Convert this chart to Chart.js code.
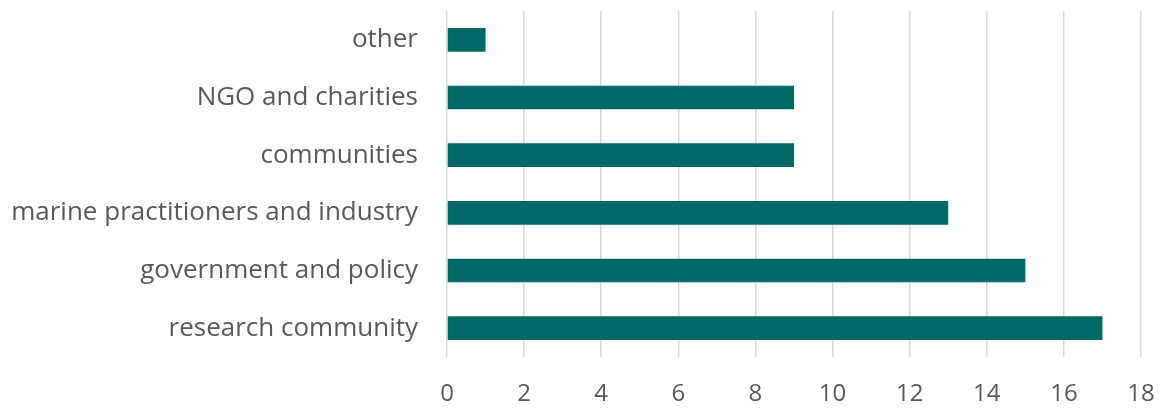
<!DOCTYPE html>
<html><head><meta charset="utf-8">
<script src="https://cdn.jsdelivr.net/npm/chart.js@4"></script>
<style>html,body{margin:0;padding:0;background:#fff}#wrap{width:1163px;height:410px}</style>
</head><body><div id="wrap"><canvas id="c"></canvas></div>
<script>
const categories = ["other","NGO and charities","communities","marine practitioners and industry","government and policy","research community"];
const values = [1,9,9,13,15,17];
const xTicks = [0,2,4,6,8,10,12,14,16,18];

new Chart(document.getElementById('c'), {
  type: 'bar',
  data: { labels: categories, datasets: [{ data: values, backgroundColor: '#006865', borderWidth: 0, categoryPercentage: 1, barPercentage: 0.41 }] },
  options: {
    indexAxis: 'y', responsive: true, maintainAspectRatio: false, animation: false,
    layout: { padding: { top: 11, right: 22, left: 0, bottom: 0 } },
    plugins: { legend: { display: false }, tooltip: { enabled: false } },
    scales: {
      x: { min: 0, max: 18, afterBuildTicks: s => { s.ticks = xTicks.map(v => ({ value: v })); },
        grid: { color: '#d9d9d9', lineWidth: 1.5, drawTicks: false },
        border: { display: false },
        ticks: { color: '#595959', font: { family: 'Open Sans', size: 24 }, padding: 23 },
        afterFit: s => { s.height = 53; s.paddingLeft = 0; s.paddingRight = 0; } },
      y: { grid: { display: false }, border: { display: false },
        ticks: { color: '#595959', font: { family: 'Open Sans', size: 26 }, padding: 21 },
        afterFit: s => { s.width = 447; s.paddingTop = 0; s.paddingBottom = 0; } }
    }
  }
});
</script></body></html>
